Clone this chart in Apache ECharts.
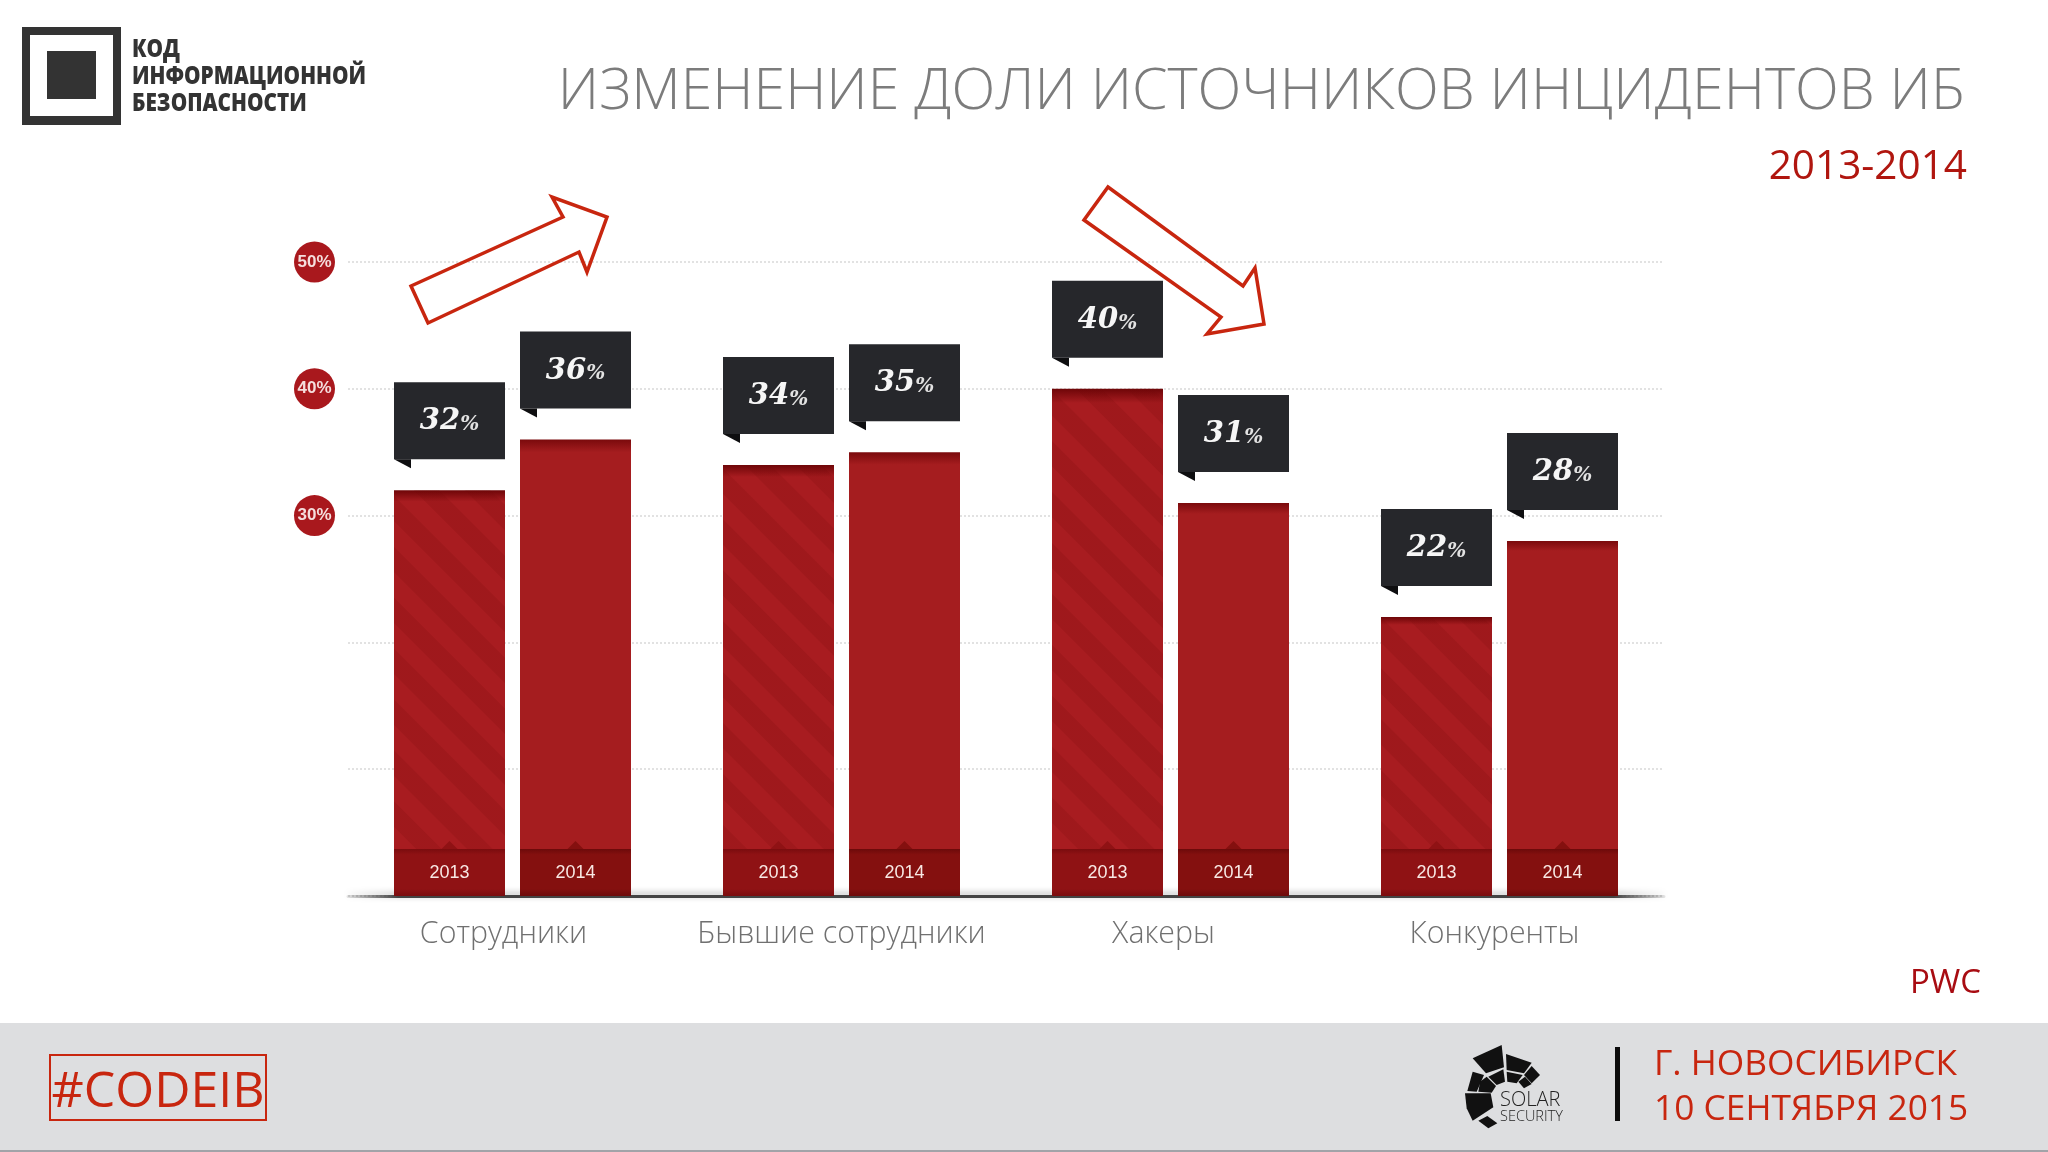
<!DOCTYPE html>
<html><head><meta charset="utf-8">
<style>html,body{margin:0;padding:0;background:#fff}#c{width:2048px;height:1152px}</style>
<script src="https://cdn.jsdelivr.net/npm/echarts@6/dist/echarts.min.js"></script>
</head><body><div id="c"></div>
<script>
const categories = ['Сотрудники', 'Бывшие сотрудники', 'Хакеры', 'Конкуренты'];
const years = ['2013', '2014'];
const values2013 = [32, 34, 40, 22];
const values2014 = [36, 35, 31, 28];
const axisTicks = [50, 40, 30];
const titleText = 'ИЗМЕНЕНИЕ ДОЛИ ИСТОЧНИКОВ ИНЦИДЕНТОВ ИБ';
const periodText = '2013-2014';
const sourceText = 'PWC';
const logoLines = ['КОД', 'ИНФОРМАЦИОННОЙ', 'БЕЗОПАСНОСТИ'];
const hashtagText = '#CODEIB';
const placeLines = ['Г. НОВОСИБИРСК', '10 СЕНТЯБРЯ 2015'];
const labelShift = [18, 0, 14, 10];

const BAR_W = 111, BAR_GAP = 15, BAND_H = 47, BOX_H = 77, BOX_GAP = 31;
const SANS = '"Open Sans","Noto Sans",sans-serif';
const RED = '#c8260f';

function barX(api, i, off) { return api.coord([i, 0])[0] + off * (BAR_W + BAR_GAP) / 2 - BAR_W / 2; }

function bandSeries(yearIdx, col, dark) {
  const off = yearIdx === 0 ? -1 : 1;
  return {
    type: 'custom', name: years[yearIdx] + ' band', silent: true, z: 5, coordinateSystem: 'cartesian2d',
    data: categories.map((_, i) => [i, 0]),
    renderItem(p, api) {
      const i = api.value(0), x = barX(api, i, off), y0 = api.coord([i, 0])[1], top = y0 - BAND_H, cx = x + BAR_W / 2;
      return { type: 'group', children: [
        { type: 'polygon', shape: { points: [[cx - 9, top + 1], [cx, top - 8], [cx + 9, top + 1]] }, style: { fill: col } },
        { type: 'rect', shape: { x, y: top, width: BAR_W, height: BAND_H }, style: { fill: { type: 'linear', x: 0, y: 0, x2: 0, y2: 1, colorStops: [
          { offset: 0, color: dark }, { offset: 0.12, color: col }, { offset: 0.85, color: col }, { offset: 1, color: dark }] } } },
        { type: 'text', style: { x: cx, y: top + 24, text: years[yearIdx], fill: '#f8e8e4', font: '18px "Liberation Sans",sans-serif', align: 'center', verticalAlign: 'middle' } }
      ] };
    }
  };
}
function calloutSeries(yearIdx, vals) {
  const off = yearIdx === 0 ? -1 : 1;
  return {
    type: 'custom', name: years[yearIdx] + ' callout', silent: true, z: 6, coordinateSystem: 'cartesian2d',
    data: vals.map((v, i) => [i, v]),
    renderItem(p, api) {
      const i = api.value(0), v = api.value(1), x = barX(api, i, off), top = api.coord([i, v])[1] - BOX_GAP - BOX_H;
      return { type: 'group', children: [
        { type: 'rect', shape: { x, y: top, width: BAR_W, height: BOX_H }, style: { fill: '#26272b' } },
        { type: 'polygon', shape: { points: [[x, top + BOX_H], [x + 17, top + BOX_H], [x + 17, top + BOX_H + 9]] }, style: { fill: '#0e0e10' } },
        { type: 'text', style: { x: x + BAR_W / 2, y: top + BOX_H / 2 + 1, text: '{n|' + v + '}{p|%}', align: 'center', verticalAlign: 'middle', fill: '#fff',
          rich: { n: { font: 'italic bold 29px "DejaVu Serif",serif', fill: '#f6f6f6', color: '#f6f6f6' }, p: { font: 'italic bold 20px "DejaVu Serif",serif', fill: '#e2e2e2', color: '#e2e2e2', padding: [6, 0, 0, 0] } } } }
      ] };
    }
  };
}
function barGrad(a, b) { return { type: 'linear', x: 0, y: 0, x2: 0, y2: 1, colorStops: [{ offset: 0, color: a }, { offset: 0.028, color: b }, { offset: 1, color: b }] }; }

// Solar Security mark, traced in zoom-crop units
const solarPolys = [
  [[68,85],[155,45],[162,112],[108,130]],
  [[168,72],[245,98],[222,130],[170,120]],
  [[245,108],[270,135],[245,160],[222,135]],
  [[225,140],[245,162],[222,175],[205,155]],
  [[115,140],[160,118],[165,155],[140,165]],
  [[170,125],[218,135],[200,160],[172,155]],
  [[68,125],[102,135],[80,185],[52,183]],
  [[110,140],[138,168],[125,188],[85,185],[90,155]],
  [[45,190],[122,190],[130,232],[68,272],[50,235]],
  [[112,258],[142,280],[115,295],[85,272]]
].map(pl => ({ type: 'polygon', silent: true, shape: { points: pl.map(q => [1450 + q[0] / 3, 1030 + q[1] / 3]) }, style: { fill: '#111' } }));

const txt = (x, y, text, font, fill, align) => ({ type: 'text', silent: true, style: { x, y, text, font, fill, align: align || 'left', verticalAlign: 'middle' } });
const logoTxt = (y, text) => ({ type: 'text', silent: true, x: 132, y, scaleX: 0.865, style: { x: 0, y: 0, text, font: '800 24px ' + SANS, fill: '#333', verticalAlign: 'middle' } });
const arrow = pts => ({ type: 'polygon', silent: true, z: 20, shape: { points: pts }, style: { fill: 'rgba(255,255,255,0)', stroke: RED, lineWidth: 3.5, lineJoin: 'miter' } });

const graphicEls = [
  // footer
  { type: 'rect', silent: true, z: -1, shape: { x: 0, y: 1023, width: 2048, height: 127 }, style: { fill: '#dddee0' } },
  { type: 'rect', silent: true, shape: { x: 0, y: 1150, width: 2048, height: 2 }, style: { fill: '#a2a3a8' } },
  { type: 'rect', silent: true, shape: { x: 50, y: 1055, width: 216, height: 65 }, style: { fill: 'none', stroke: RED, lineWidth: 2 } },
  txt(158, 1093, hashtagText, '400 50px ' + SANS, RED, 'center'),
  { type: 'rect', silent: true, shape: { x: 1615, y: 1047, width: 5, height: 74 }, style: { fill: '#0c0c0c' } },
  txt(1654, 1065, placeLines[0], '400 35.3px ' + SANS, RED),
  txt(1654, 1110, placeLines[1], '400 35.3px ' + SANS, RED),
  ...solarPolys,
  txt(1500, 1100, 'SOLAR', '300 20px "Liberation Sans Narrow","Open Sans",sans-serif', '#222'),
  txt(1500, 1117, 'SECURITY', '300 14.5px "Liberation Sans Narrow","Open Sans",sans-serif', '#222'),
  // logo
  { type: 'rect', silent: true, shape: { x: 22, y: 27, width: 99, height: 98 }, style: { fill: '#333' } },
  { type: 'rect', silent: true, shape: { x: 30, y: 35, width: 83, height: 81 }, style: { fill: '#fff' } },
  { type: 'rect', silent: true, shape: { x: 47, y: 51, width: 49, height: 48 }, style: { fill: '#333' } },
  logoTxt(50, logoLines[0]),
  logoTxt(77, logoLines[1]),
  logoTxt(104, logoLines[2]),
  // source
  txt(1981, 984, sourceText, '400 33px ' + SANS, '#a80c12', 'right'),
  // arrows
  arrow([[411,286],[563,217],[552,197],[607,217],[587,272],[579,252],[428,323]]),
  arrow([[1084,220],[1108,187],[1243,286],[1255,268],[1264,324],[1207,334],[1221,317]])
];

const option = {
  backgroundColor: '#fff',
  animation: false,
  title: [
    { text: titleText, right: 78, top: 59, textStyle: { fontFamily: SANS, fontWeight: 300, fontSize: 57.3, color: '#7c7c7c' } },
    { text: periodText, right: 76, top: 142, textStyle: { fontFamily: SANS, fontWeight: 400, fontSize: 40.5, color: '#b0160f' } }
  ],
  grid: { left: 348, top: 262, width: 1316, height: 634, containLabel: false },
  xAxis: {
    type: 'category',
    data: categories.map((c, i) => ({ value: c, textStyle: { padding: [0, labelShift[i], 0, 0] } })),
    axisTick: { show: false },
    axisLine: { show: true, lineStyle: { width: 3, color: { type: 'linear', x: 0, y: 0, x2: 1, y2: 0, colorStops: [
      { offset: 0, color: 'rgba(60,60,60,0.1)' }, { offset: 0.04, color: '#444' }, { offset: 0.96, color: '#444' }, { offset: 1, color: 'rgba(60,60,60,0.1)' }] }, shadowColor: 'rgba(0,0,0,0.35)', shadowBlur: 6, shadowOffsetY: -2 } },
    axisLabel: { margin: 23, fontFamily: SANS, fontWeight: 300, fontSize: 30.3, color: '#707070', interval: 0 }
  },
  yAxis: {
    type: 'value', min: 0, max: 50, interval: 10,
    axisLine: { show: false }, axisTick: { show: false },
    splitLine: { show: true, lineStyle: { type: 'dotted', color: '#e2e2e2', width: 2 } },
    axisLabel: { margin: 13, formatter: v => axisTicks.includes(v) ? '{c|' + v + '%}' : '',
      rich: { c: { width: 41, height: 41, lineHeight: 41, borderRadius: 21, backgroundColor: '#a9181d', color: '#f5dedd', align: 'center', fontFamily: '"Liberation Sans Narrow","Liberation Sans",sans-serif', fontWeight: 'bold', fontSize: 17 } } }
  },
  series: [
    { type: 'bar', name: years[0], data: values2013, barWidth: BAR_W, barGap: (BAR_GAP / BAR_W * 100) + '%', z: 3, silent: true,
      itemStyle: { color: barGrad('#6e0608', '#a81c20'), decal: { symbol: 'rect', color: 'rgba(110,8,8,0.16)', dashArrayX: [1, 0], dashArrayY: [18, 18], rotation: Math.PI / 4, symbolSize: 1 } } },
    { type: 'bar', name: years[1], data: values2014, barWidth: BAR_W, z: 3, silent: true,
      itemStyle: { color: barGrad('#7a0a0c', '#a51d1f') } },
    bandSeries(0, '#8f1214', '#7a0c0e'),
    bandSeries(1, '#84100f', '#6c0a0a'),
    calloutSeries(0, values2013),
    calloutSeries(1, values2014)
  ],
  graphic: { elements: graphicEls }
};
echarts.init(document.getElementById('c')).setOption(option);
</script></body></html>
